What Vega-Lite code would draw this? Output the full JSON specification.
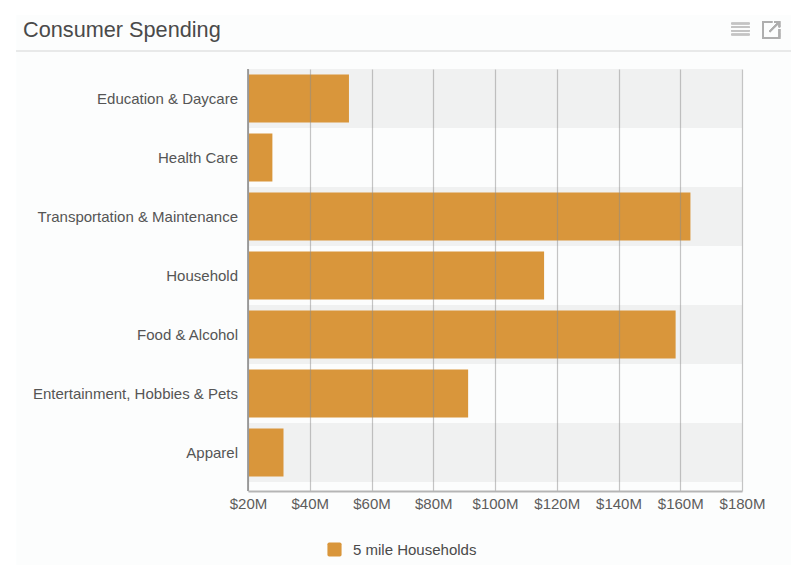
{
"$schema":"https://vega.github.io/schema/vega-lite/v6.json",
"width":494,"height":422,
"autosize":{"type":"none"},
"padding":{"left":248,"top":69,"right":49,"bottom":80},
"background":"#ffffff",
"config":{"view":{"stroke":null},"font":"Liberation Sans"},
"title":{"text":"Consumer Spending","anchor":"start","frame":"group","fontSize":21.7,"fontWeight":"normal","color":"#4a4a4a","font":"Liberation Sans","dx":-225,"dy":27,"offset":0},
"data":{"values":[
{"category":"Education & Daycare","spending":52.7,"series":"5 mile Households"},
{"category":"Health Care","spending":27.9,"series":"5 mile Households"},
{"category":"Transportation & Maintenance","spending":163.3,"series":"5 mile Households"},
{"category":"Household","spending":115.9,"series":"5 mile Households"},
{"category":"Food & Alcohol","spending":158.5,"series":"5 mile Households"},
{"category":"Entertainment, Hobbies & Pets","spending":91.3,"series":"5 mile Households"},
{"category":"Apparel","spending":31.5,"series":"5 mile Households"}
]},
"layer":[
{"mark":{"type":"rect","fill":"#fcfdfd"},
 "encoding":{"x":{"datum":-55,"type":"quantitative","scale":{"domain":[20,180],"clamp":false,"nice":false,"zero":false}},"x2":{"datum":197},
 "y":{"datum":15,"type":"quantitative","scale":{"domain":[69,491],"reverse":true,"nice":false,"zero":false},"axis":null},"y2":{"datum":565}}},
{"mark":{"type":"rule","stroke":"#e8e9e9","strokeWidth":2},
 "encoding":{"x":{"datum":-55,"type":"quantitative"},"x2":{"datum":197},
 "y":{"datum":51,"type":"quantitative","scale":{"domain":[69,491],"reverse":true,"nice":false,"zero":false},"axis":null}}},
{"mark":{"type":"point","shape":"M-1,-0.6H1M-1,-0.2H1M-1,0.2H1M-1,0.6H1","filled":false,"stroke":"#c4c4c4","strokeWidth":1.5,"opacity":1,"size":324},
 "encoding":{"x":{"datum":179.5,"type":"quantitative"},
 "y":{"datum":29,"type":"quantitative","scale":{"domain":[69,491],"reverse":true,"nice":false,"zero":false},"axis":null}}},
{"mark":{"type":"point","shape":"M0.1,-0.9H-0.9V0.9H0.9V-0.1M-0.2,0.2L0.9,-0.9M0.3,-0.9H0.9V-0.3","filled":false,"stroke":"#aeaeae","strokeWidth":1.5,"opacity":1,"size":324},
 "encoding":{"x":{"datum":189.5,"type":"quantitative"},
 "y":{"datum":30,"type":"quantitative","scale":{"domain":[69,491],"reverse":true,"nice":false,"zero":false},"axis":null}}},
{"layer":[
{"mark":{"type":"bar","height":{"band":1},"fill":"#f0f1f1","tooltip":null},
 "encoding":{
 "y":{"field":"category","type":"nominal","sort":null,"title":null,"scale":{"range":[0,413],"paddingInner":0,"paddingOuter":0},"axis":null},
 "x":{"datum":20,"type":"quantitative"},"x2":{"datum":180},
 "opacity":{"condition":{"test":"indexof(['Education & Daycare','Transportation & Maintenance','Food & Alcohol','Apparel'], datum.category) >= 0","value":1},"value":0}}},
{"mark":{"type":"bar","height":{"band":0.81},"cornerRadius":0},
 "encoding":{
 "y":{"field":"category","type":"nominal","sort":null,"title":null,"axis":null},
 "x":{"field":"spending","type":"quantitative","title":null,"scale":{"domain":[20,180],"clamp":false,"nice":false,"zero":false},
  "axis":{"values":[20,40,60,80,100,120,140,160,180],"labelExpr":"'$' + datum.value + 'M'","grid":true,"gridColor":"#8c8c8c","gridOpacity":0.5,"gridWidth":1.2,"zindex":1,"ticks":false,"domain":true,"domainColor":"#b5b5b5","domainWidth":2,"labelPadding":5,"labelFontSize":15,"labelColor":"#5c5c5c","labelFont":"Liberation Sans","labelOverlap":false,"labelFlush":false}},
 "x2":{"datum":20},
 "color":{"field":"series","type":"nominal","scale":{"range":["#d9963b"]},
  "legend":{"orient":"none","legendX":79,"legendY":473,"title":null,"symbolType":"M-1,-0.75Q-1,-1,-0.75,-1H0.75Q1,-1,1,-0.75V0.75Q1,1,0.75,1H-0.75Q-1,1,-1,0.75Z","symbolSize":200,"symbolStrokeWidth":0,"labelFontSize":15,"labelColor":"#4a4a4a","labelFont":"Liberation Sans","labelOffset":11}}
 }},
{"mark":{"type":"text","align":"right","baseline":"middle","dx":-10,"fontSize":15,"color":"#555555","font":"Liberation Sans"},
 "encoding":{"y":{"field":"category","type":"nominal","sort":null,"title":null,"axis":null},"x":{"datum":20,"type":"quantitative"},"text":{"field":"category"}}},
{"mark":{"type":"rule","stroke":"#a5a5a5","strokeWidth":1.5},
 "encoding":{"x":{"datum":20,"type":"quantitative"}}}
]}
],
"resolve":{"scale":{"y":"independent"}}
}
